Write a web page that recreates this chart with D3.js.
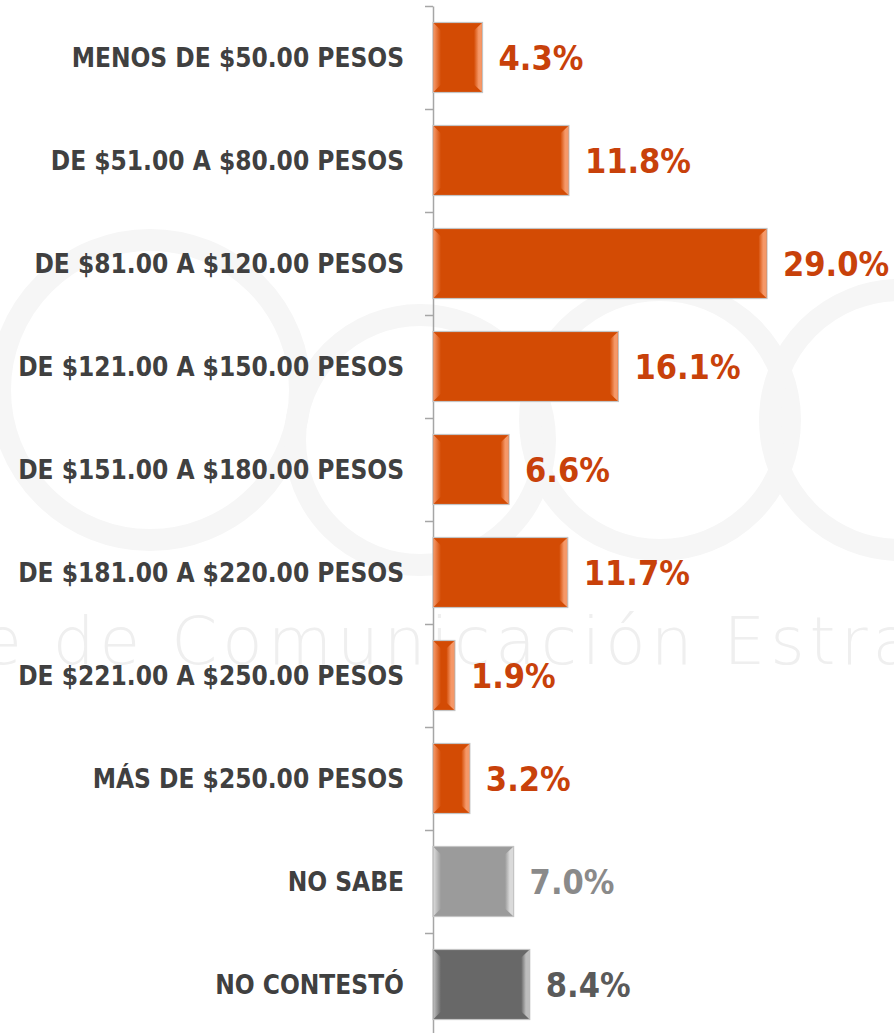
<!DOCTYPE html>
<html>
<head>
<meta charset="utf-8">
<script src="https://cdn.jsdelivr.net/npm/d3@7"></script>
<style>
  body { margin: 0; background: #fff; }
</style>
</head>
<body>
<div id="chart"></div>
<script>
// Chart data
var categories = [
  "MENOS DE $50.00 PESOS",
  "DE $51.00 A $80.00 PESOS",
  "DE $81.00 A $120.00 PESOS",
  "DE $121.00 A $150.00 PESOS",
  "DE $151.00 A $180.00 PESOS",
  "DE $181.00 A $220.00 PESOS",
  "DE $221.00 A $250.00 PESOS",
  "MÁS DE $250.00 PESOS",
  "NO SABE",
  "NO CONTESTÓ"
];
var values = [4.3, 11.8, 29.0, 16.1, 6.6, 11.7, 1.9, 3.2, 7.0, 8.4];
var valueLabels = ["4.3%", "11.8%", "29.0%", "16.1%", "6.6%", "11.7%", "1.9%", "3.2%", "7.0%", "8.4%"];

var svgWidth = 894;
var svgHeight = 1033;

var margin = { top: 6, right: 0, bottom: 0, left: 433 };

var svg = d3.select("#chart")
  .append("svg")
  .attr("width", svgWidth)
  .attr("height", svgHeight);

// faint watermark in the background
var wm = svg.append("g").attr("fill", "none").attr("stroke", "#f6f6f6").attr("stroke-width", 22);
wm.append("circle").attr("cx", 150).attr("cy", 390).attr("r", 150);
wm.append("circle").attr("cx", 420).attr("cy", 440).attr("r", 125);
wm.append("circle").attr("cx", 660).attr("cy", 420).attr("r", 130);
wm.append("circle").attr("cx", 900).attr("cy", 420).attr("r", 130);
svg.append("text")
  .attr("x", -314)
  .attr("y", 664)
  .attr("fill", "#efefef")
  .attr("font-family", "DejaVu Sans")
  .attr("font-weight", 200)
  .attr("font-size", "66px")
  .attr("letter-spacing", "5px")
  .text("Gabinete de Comunicación Estratégica");

var chartGroup = svg.append("g")
  .attr("transform", `translate(${margin.left}, ${margin.top})`);

var chartHeight = 1030;

var xScale = d3.scaleLinear()
  .domain([0, 29])
  .range([0, 334]);

var yScale = d3.scaleBand()
  .domain(categories)
  .range([0, chartHeight])
  .paddingInner(0.32)
  .paddingOuter(0.16);

// boundary ticks between categories
var tickScale = d3.scaleLinear()
  .domain([0, categories.length])
  .range([0, chartHeight]);

var leftAxis = d3.axisLeft(tickScale)
  .ticks(categories.length)
  .tickSize(8)
  .tickSizeOuter(0)
  .tickFormat("");

var axisG = chartGroup.append("g").call(leftAxis);
axisG.selectAll("path, line").attr("stroke", "#a6a6a6").attr("stroke-width", 1.5);

// gradients for the bevelled bars
var palettes = [
  { base: "#d34b04", light: "#f59868", label: "#c8410a" },
  { base: "#9b9b9b", light: "#dadada", label: "#8a8a8a" },
  { base: "#686868", light: "#bdbdbd", label: "#5a5a5a" }
];
function paletteFor(i) {
  if (categories[i] === "NO SABE") return palettes[1];
  if (categories[i] === "NO CONTESTÓ") return palettes[2];
  return palettes[0];
}

var defs = svg.append("defs");
palettes.forEach(function(p, k) {
  var gl = defs.append("linearGradient").attr("id", "bevL" + k)
    .attr("x1", 0).attr("x2", 1).attr("y1", 0).attr("y2", 0);
  gl.append("stop").attr("offset", "0%").attr("stop-color", p.light);
  gl.append("stop").attr("offset", "100%").attr("stop-color", p.base);
  var gr = defs.append("linearGradient").attr("id", "bevR" + k)
    .attr("x1", 0).attr("x2", 1).attr("y1", 0).attr("y2", 0);
  gr.append("stop").attr("offset", "0%").attr("stop-color", p.base);
  gr.append("stop").attr("offset", "60%").attr("stop-color", p.light);
  gr.append("stop").attr("offset", "100%").attr("stop-color", p.light);
});

var bev = 8;
var bars = chartGroup.selectAll(".bar")
  .data(values)
  .enter()
  .append("g")
  .attr("class", "bar");

bars.append("rect")
  .attr("x", 0)
  .attr("y", (d, i) => yScale(categories[i]))
  .attr("width", d => xScale(d))
  .attr("height", yScale.bandwidth())
  .attr("fill", (d, i) => paletteFor(i).base)
  .attr("stroke", "#c4c4c4")
  .attr("stroke-width", 1.2);

bars.append("polygon")
  .attr("fill", (d, i) => "url(#bevL" + palettes.indexOf(paletteFor(i)) + ")")
  .attr("points", function(d, i) {
    var y0 = yScale(categories[i]), y1 = y0 + yScale.bandwidth();
    var b = Math.min(bev, xScale(d) / 2);
    return [[0.6, y0 + 0.6], [b, y0 + b], [b, y1 - b], [0.6, y1 - 0.6]].join(" ");
  });

bars.append("polygon")
  .attr("fill", (d, i) => "url(#bevR" + palettes.indexOf(paletteFor(i)) + ")")
  .attr("points", function(d, i) {
    var y0 = yScale(categories[i]), y1 = y0 + yScale.bandwidth();
    var w = xScale(d) - 0.6;
    var b = Math.min(bev, xScale(d) / 2);
    return [[w, y0 + 0.6], [w - b, y0 + b], [w - b, y1 - b], [w, y1 - 0.6]].join(" ");
  });

// value labels
chartGroup.selectAll(".value")
  .data(values)
  .enter()
  .append("text")
  .attr("class", "value")
  .attr("x", d => xScale(d) + 16)
  .attr("y", (d, i) => yScale(categories[i]) + yScale.bandwidth() / 2)
  .attr("dy", "0.36em")
  .attr("fill", (d, i) => paletteFor(i).label)
  .attr("font-family", "'DejaVu Sans Condensed', 'DejaVu Sans'")
  .attr("font-stretch", "condensed")
  .attr("font-weight", "bold")
  .attr("font-size", "34px")
  .text((d, i) => valueLabels[i]);

// category labels
chartGroup.selectAll(".cat")
  .data(categories)
  .enter()
  .append("text")
  .attr("class", "cat")
  .attr("x", -29)
  .attr("y", d => yScale(d) + yScale.bandwidth() / 2)
  .attr("dy", "0.36em")
  .attr("text-anchor", "end")
  .attr("fill", "#404040")
  .attr("font-family", "'DejaVu Sans Condensed', 'DejaVu Sans'")
  .attr("font-stretch", "condensed")
  .attr("font-weight", "bold")
  .attr("font-size", "26px")
  .text(d => d);
</script>
</body>
</html>
